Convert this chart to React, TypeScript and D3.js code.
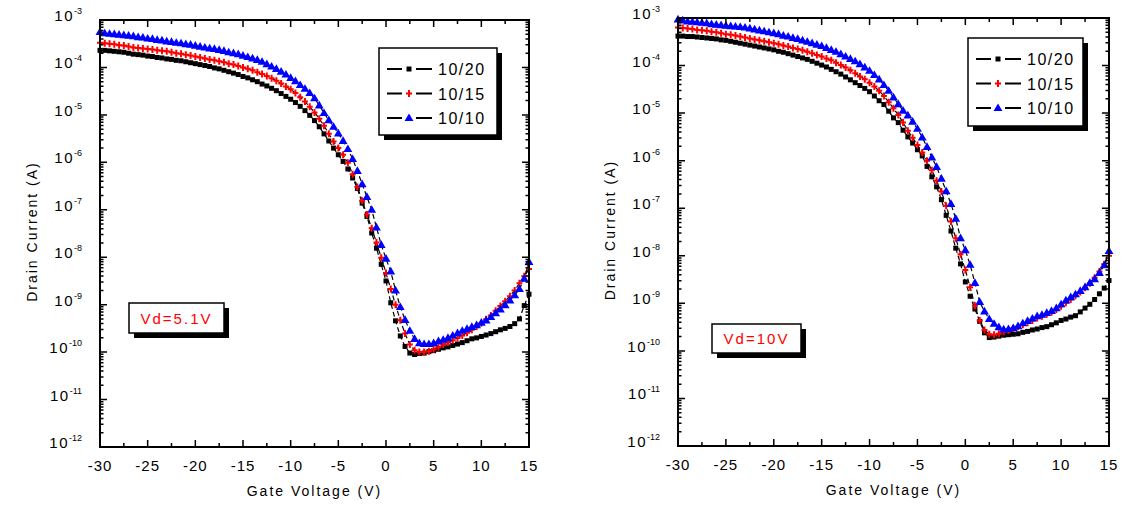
import React from "react";
import * as d3 from "d3";

// Gate voltage sweep (V)
const gateVoltage = [
  -30, -29.5, -29, -28.5, -28, -27.5, -27, -26.5, -26, -25.5,
  -25, -24.5, -24, -23.5, -23, -22.5, -22, -21.5, -21, -20.5,
  -20, -19.5, -19, -18.5, -18, -17.5, -17, -16.5, -16, -15.5,
  -15, -14.5, -14, -13.5, -13, -12.5, -12, -11.5, -11, -10.5,
  -10, -9.5, -9, -8.5, -8, -7.5, -7, -6.5, -6, -5.5,
  -5, -4.5, -4, -3.5, -3, -2.5, -2, -1.5, -1, -0.5,
  0, 0.5, 1, 1.5, 2, 2.5, 3, 3.5, 4, 4.5,
  5, 5.5, 6, 6.5, 7, 7.5, 8, 8.5, 9, 9.5,
  10, 10.5, 11, 11.5, 12, 12.5, 13, 13.5, 14, 14.5,
  15,
];

const xTickValues = [-30, -25, -20, -15, -10, -5, 0, 5, 10, 15];
const yTickExponents = [-3, -4, -5, -6, -7, -8, -9, -10, -11, -12];
const seriesNames = ["10/20", "10/15", "10/10"];
const seriesColors = ["#000000", "#ff0000", "#0000ff"];
const seriesMarkers = ["square", "plus", "triangle"];

// log10(Drain current, A) at Vd = 5.1 V
const vd51_1020 = [
  -3.64, -3.64, -3.65, -3.66, -3.67, -3.68, -3.70, -3.72, -3.73, -3.74,
  -3.76, -3.77, -3.79, -3.80, -3.82, -3.83, -3.85, -3.86, -3.88, -3.90,
  -3.92, -3.94, -3.96, -3.98, -4.01, -4.03, -4.06, -4.09, -4.12, -4.15,
  -4.19, -4.22, -4.26, -4.30, -4.35, -4.39, -4.44, -4.49, -4.55, -4.61,
  -4.67, -4.74, -4.82, -4.91, -5.01, -5.12, -5.25, -5.40, -5.55, -5.70,
  -5.84, -5.98, -6.14, -6.33, -6.55, -6.86, -7.14, -7.49, -7.81, -8.15,
  -8.50, -8.96, -9.34, -9.66, -9.88, -10.02, -10.05, -10.03, -10.02, -9.99,
  -9.97, -9.94, -9.91, -9.89, -9.86, -9.83, -9.80, -9.76, -9.72, -9.70,
  -9.67, -9.64, -9.61, -9.57, -9.53, -9.50, -9.46, -9.40, -9.30, -9.02,
  -8.78,
];
const vd51_1015 = [
  -3.48, -3.49, -3.50, -3.51, -3.53, -3.54, -3.56, -3.58, -3.59, -3.60,
  -3.61, -3.62, -3.64, -3.65, -3.66, -3.68, -3.70, -3.71, -3.73, -3.75,
  -3.77, -3.79, -3.81, -3.83, -3.85, -3.87, -3.89, -3.92, -3.94, -3.97,
  -4.00, -4.03, -4.06, -4.10, -4.14, -4.18, -4.23, -4.28, -4.34, -4.40,
  -4.46, -4.54, -4.63, -4.72, -4.83, -4.95, -5.08, -5.23, -5.40, -5.56,
  -5.70, -5.84, -6.01, -6.25, -6.52, -6.81, -7.10, -7.39, -7.69, -8.01,
  -8.33, -8.67, -9.00, -9.33, -9.61, -9.84, -9.96, -10.00, -10.00, -9.98,
  -9.94, -9.89, -9.84, -9.80, -9.75, -9.70, -9.65, -9.59, -9.53, -9.46,
  -9.39, -9.31, -9.23, -9.13, -9.03, -8.93, -8.82, -8.70, -8.55, -8.40,
  -8.25,
];
const vd51_1010 = [
  -3.25, -3.28, -3.29, -3.30, -3.31, -3.32, -3.33, -3.34, -3.36, -3.37,
  -3.39, -3.40, -3.42, -3.43, -3.45, -3.46, -3.48, -3.49, -3.51, -3.52,
  -3.54, -3.56, -3.58, -3.60, -3.61, -3.63, -3.65, -3.68, -3.70, -3.72,
  -3.75, -3.78, -3.81, -3.84, -3.88, -3.93, -3.98, -4.03, -4.09, -4.15,
  -4.22, -4.29, -4.37, -4.45, -4.54, -4.65, -4.80, -4.96, -5.11, -5.25,
  -5.39, -5.55, -5.72, -5.93, -6.18, -6.46, -6.73, -7.00, -7.37, -7.74,
  -8.03, -8.30, -8.70, -9.05, -9.32, -9.55, -9.72, -9.81, -9.83, -9.83,
  -9.81, -9.77, -9.74, -9.70, -9.65, -9.60, -9.55, -9.51, -9.47, -9.43,
  -9.38, -9.33, -9.26, -9.18, -9.10, -9.01, -8.91, -8.80, -8.67, -8.45,
  -8.10,
];

// log10(Drain current, A) at Vd = 10 V
const vd10_1020 = [
  -3.38, -3.38, -3.39, -3.39, -3.40, -3.41, -3.42, -3.43, -3.44, -3.46,
  -3.47, -3.49, -3.51, -3.53, -3.55, -3.57, -3.59, -3.61, -3.63, -3.65,
  -3.67, -3.70, -3.72, -3.75, -3.78, -3.81, -3.84, -3.87, -3.91, -3.95,
  -3.99, -4.03, -4.08, -4.13, -4.18, -4.24, -4.30, -4.36, -4.42, -4.48,
  -4.55, -4.64, -4.74, -4.82, -4.96, -5.10, -5.20, -5.36, -5.50, -5.63,
  -5.77, -5.90, -6.12, -6.34, -6.55, -6.82, -7.15, -7.48, -7.84, -8.17,
  -8.55, -8.85, -9.12, -9.38, -9.62, -9.72, -9.71, -9.69, -9.67, -9.66,
  -9.65, -9.64, -9.61, -9.59, -9.56, -9.54, -9.51, -9.49, -9.45, -9.41,
  -9.36, -9.33, -9.29, -9.26, -9.18, -9.10, -9.02, -8.92, -8.80, -8.68,
  -8.52,
];
const vd10_1015 = [
  -3.20, -3.21, -3.22, -3.23, -3.25, -3.26, -3.27, -3.29, -3.30, -3.32,
  -3.34, -3.35, -3.37, -3.39, -3.41, -3.43, -3.45, -3.47, -3.49, -3.51,
  -3.53, -3.55, -3.58, -3.60, -3.63, -3.65, -3.68, -3.71, -3.74, -3.78,
  -3.81, -3.85, -3.89, -3.94, -3.99, -4.04, -4.10, -4.16, -4.23, -4.29,
  -4.36, -4.44, -4.53, -4.64, -4.77, -4.90, -5.04, -5.20, -5.37, -5.52,
  -5.67, -5.83, -6.00, -6.20, -6.42, -6.65, -6.95, -7.28, -7.63, -7.97,
  -8.30, -8.66, -9.05, -9.36, -9.56, -9.65, -9.66, -9.64, -9.60, -9.57,
  -9.53, -9.49, -9.45, -9.41, -9.36, -9.31, -9.27, -9.23, -9.19, -9.13,
  -9.06, -8.99, -8.92, -8.84, -8.76, -8.67, -8.58, -8.46, -8.33, -8.18,
  -8.00,
];
const vd10_1010 = [
  -3.03, -3.05, -3.07, -3.08, -3.09, -3.10, -3.11, -3.13, -3.14, -3.15,
  -3.16, -3.17, -3.18, -3.19, -3.20, -3.22, -3.24, -3.26, -3.28, -3.30,
  -3.32, -3.34, -3.37, -3.39, -3.42, -3.44, -3.47, -3.50, -3.53, -3.56,
  -3.59, -3.63, -3.67, -3.71, -3.76, -3.81, -3.86, -3.91, -3.97, -4.04,
  -4.11, -4.20, -4.29, -4.41, -4.53, -4.67, -4.81, -4.95, -5.05, -5.18,
  -5.33, -5.51, -5.71, -5.93, -6.13, -6.38, -6.64, -6.91, -7.22, -7.63,
  -7.88, -8.19, -8.57, -8.97, -9.17, -9.33, -9.43, -9.50, -9.55, -9.54,
  -9.52, -9.48, -9.42, -9.37, -9.32, -9.27, -9.24, -9.20, -9.16, -9.10,
  -9.02, -8.94, -8.87, -8.81, -8.74, -8.66, -8.57, -8.49, -8.36, -8.20,
  -7.90,
];

const FONT = "'Liberation Sans', Arial, Helvetica, sans-serif";

function Marker({ kind, x, y, color }: { kind: string; x: number; y: number; color: string }) {
  if (kind === "square") {
    return <rect x={x - 2.5} y={y - 2.5} width={5} height={5} fill={color} />;
  }
  if (kind === "plus") {
    return (
      <path
        d={`M${x - 3},${y}H${x + 3}M${x},${y - 3.5}V${y + 3.5}`}
        stroke={color}
        strokeWidth={2}
        fill="none"
      />
    );
  }
  const tri = d3.symbol().type(d3.symbolTriangle).size(34)();
  return <path d={tri || ""} transform={`translate(${x},${y + 0.5})`} fill={color} />;
}

type Frame = { l: number; r: number; t: number; b: number };
type Box = { x: number; y: number; w: number; h: number };

function Panel({
  frame,
  series,
  vdText,
  legend,
  vdBox,
}: {
  frame: Frame;
  series: number[][];
  vdText: string;
  legend: Box;
  vdBox: Box;
}) {
  const x = d3.scaleLinear().domain([-30, 15]).range([frame.l, frame.r]);
  const y = d3.scaleLog().domain([1e-12, 1e-3]).range([frame.b, frame.t]);

  const line = d3
    .line<[number, number]>()
    .x((d) => x(d[0]))
    .y((d) => y(Math.pow(10, d[1])));

  const minorX: number[] = [];
  xTickValues.slice(0, -1).forEach((v) => minorX.push(v + 2.5));
  const minorY: number[] = [];
  yTickExponents.slice(1).forEach((e) => {
    for (let k = 2; k <= 9; k++) minorY.push(k * Math.pow(10, e));
  });

  const ticks: string[] = [];
  xTickValues.forEach((v) => {
    const px = x(v);
    ticks.push(`M${px},${frame.b}v-7M${px},${frame.t}v7`);
  });
  minorX.forEach((v) => {
    const px = x(v);
    ticks.push(`M${px},${frame.b}v-4M${px},${frame.t}v4`);
  });
  yTickExponents.forEach((e) => {
    const py = y(Math.pow(10, e));
    ticks.push(`M${frame.l},${py}h7M${frame.r},${py}h-7`);
  });
  minorY.forEach((v) => {
    const py = y(v);
    ticks.push(`M${frame.l},${py}h3.5M${frame.r},${py}h-3.5`);
  });

  const cx = (frame.l + frame.r) / 2;
  const cy = (frame.t + frame.b) / 2;

  return (
    <g fontFamily={FONT}>
      {/* data */}
      {series.map((vals, si) => {
        const pts = gateVoltage.map((v, i) => [v, vals[i]] as [number, number]);
        return (
          <g key={si}>
            <path
              d={line(pts) || ""}
              fill="none"
              stroke="#000"
              strokeWidth={1.2}
              strokeDasharray="5,3"
            />
            {pts.map((p, i) => (
              <Marker
                key={i}
                kind={seriesMarkers[si]}
                x={x(p[0])}
                y={y(Math.pow(10, p[1]))}
                color={seriesColors[si]}
              />
            ))}
          </g>
        );
      })}

      {/* frame and ticks */}
      <rect
        x={frame.l}
        y={frame.t}
        width={frame.r - frame.l}
        height={frame.b - frame.t}
        fill="none"
        stroke="#000"
        strokeWidth={2}
      />
      <path d={ticks.join("")} stroke="#000" strokeWidth={1.5} fill="none" />

      {/* tick labels */}
      {xTickValues.map((v) => (
        <text
          key={v}
          x={x(v)}
          y={frame.b + 24}
          textAnchor="middle"
          fontSize={15}
          letterSpacing={1}
          fill="#000"
        >
          {v}
        </text>
      ))}
      {yTickExponents.map((e) => (
        <text
          key={e}
          x={frame.l - 18}
          y={y(Math.pow(10, e)) + 1}
          textAnchor="end"
          fontSize={15}
          letterSpacing={1.5}
          fill="#000"
        >
          10
          <tspan fontSize={9} dy={-7} letterSpacing={0}>
            {e}
          </tspan>
        </text>
      ))}

      {/* axis titles */}
      <text
        x={cx}
        y={frame.b + 49}
        textAnchor="middle"
        fontSize={14}
        letterSpacing={2}
        fill="#000"
      >
        Gate Voltage (V)
      </text>
      <text
        transform={`translate(${frame.l - 63},${cy - 2}) rotate(-90)`}
        textAnchor="middle"
        fontSize={14}
        letterSpacing={2}
        fill="#000"
      >
        Drain Current (A)
      </text>

      {/* legend */}
      <rect x={legend.x + 5} y={legend.y + 5} width={legend.w} height={legend.h} fill="#000" />
      <rect
        x={legend.x}
        y={legend.y}
        width={legend.w}
        height={legend.h}
        fill="#fff"
        stroke="#000"
        strokeWidth={1.5}
      />
      {seriesNames.map((name, si) => {
        const ly = legend.y + 21 + si * 24.5;
        const lx0 = legend.x + 8;
        const mx = lx0 + 22;
        return (
          <g key={name}>
            <path
              d={`M${lx0},${ly}H${mx - 7}M${mx + 7},${ly}H${lx0 + 45}`}
              stroke="#000"
              strokeWidth={2}
            />
            <Marker kind={seriesMarkers[si]} x={mx} y={ly} color={seriesColors[si]} />
            <text x={lx0 + 51} y={ly + 6} fontSize={16} letterSpacing={1.5} fill="#000">
              {name}
            </text>
          </g>
        );
      })}

      {/* Vd annotation */}
      <rect x={vdBox.x + 5} y={vdBox.y + 5} width={vdBox.w} height={vdBox.h} fill="#000" />
      <rect
        x={vdBox.x}
        y={vdBox.y}
        width={vdBox.w}
        height={vdBox.h}
        fill="#fff"
        stroke="#000"
        strokeWidth={1.5}
      />
      <text
        x={vdBox.x + vdBox.w / 2}
        y={vdBox.y + vdBox.h / 2 + 5.5}
        textAnchor="middle"
        fontSize={15}
        letterSpacing={2}
        fill="#ff0000"
      >
        {vdText}
      </text>
    </g>
  );
}

export default function App() {
  return (
    <svg
      width={1124}
      height={512}
      style={{ position: "absolute", left: 0, top: 0, background: "#fff" }}
    >
      <rect width={1124} height={512} fill="#fff" />
      <Panel
        frame={{ l: 100, r: 529, t: 20, b: 447 }}
        series={[vd51_1020, vd51_1015, vd51_1010]}
        vdText="Vd=5.1V"
        legend={{ x: 379, y: 48, w: 118, h: 87 }}
        vdBox={{ x: 129, y: 303, w: 95, h: 30 }}
      />
      <Panel
        frame={{ l: 678, r: 1109, t: 18, b: 446 }}
        series={[vd10_1020, vd10_1015, vd10_1010]}
        vdText="Vd=10V"
        legend={{ x: 968, y: 38, w: 115, h: 88 }}
        vdBox={{ x: 712, y: 324, w: 89, h: 29 }}
      />
    </svg>
  );
}
